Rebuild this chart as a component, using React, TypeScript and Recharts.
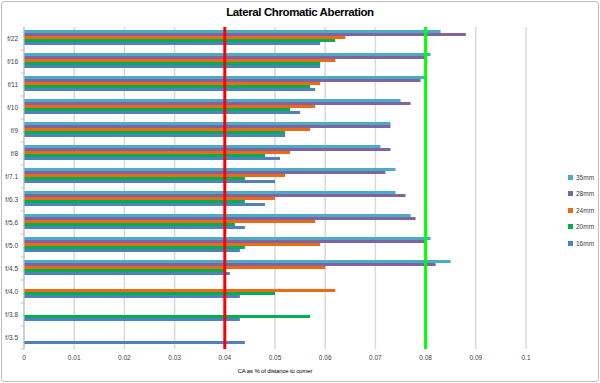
import React from 'react';
import {
  BarChart,
  Bar,
  XAxis,
  YAxis,
  CartesianGrid,
  Legend,
  ReferenceLine,
} from 'recharts';

const apertures = ['f/22', 'f/16', 'f/11', 'f/10', 'f/9', 'f/8', 'f/7.1', 'f/6.3', 'f/5.6', 'f/5.0', 'f/4.5', 'f/4.0', 'f/3.8', 'f/3.5'];

const ca35 = [0.083, 0.081, 0.08, 0.075, 0.073, 0.071, 0.074, 0.074, 0.077, 0.081, 0.085, null, null, null];
const ca28 = [0.088, 0.08, 0.079, 0.077, 0.073, 0.073, 0.072, 0.076, 0.078, 0.08, 0.082, null, null, null];
const ca24 = [0.064, 0.062, 0.059, 0.058, 0.057, 0.053, 0.052, 0.05, 0.058, 0.059, 0.06, 0.062, null, null];
const ca20 = [0.062, 0.059, 0.057, 0.053, 0.052, 0.048, 0.044, 0.044, 0.042, 0.044, 0.04, 0.05, 0.057, null];
const ca16 = [0.059, 0.059, 0.058, 0.055, 0.052, 0.051, 0.05, 0.048, 0.044, 0.043, 0.041, 0.043, 0.043, 0.044];

const xTicks = [0, 0.01, 0.02, 0.03, 0.04, 0.05, 0.06, 0.07, 0.08, 0.09, 0.1];

const series = [
  { key: 'mm35', name: '35mm', color: '#4BACC6', values: ca35 },
  { key: 'mm28', name: '28mm', color: '#8064A2', values: ca28 },
  { key: 'mm24', name: '24mm', color: '#EE6A12', values: ca24 },
  { key: 'mm20', name: '20mm', color: '#00B050', values: ca20 },
  { key: 'mm16', name: '16mm', color: '#4F81BD', values: ca16 },
];

const data = apertures.map((f, i) => {
  const row: Record<string, any> = { name: f };
  series.forEach((s) => {
    row[s.key] = s.values[i];
  });
  return row;
});

const FONT = '"Liberation Sans", Arial, sans-serif';

// y tick: label plus a small outward tick at the band edge, like Excel
const YTick = (props: any) => {
  const { x, y, payload } = props;
  return (
    <g>
      <text x={x + 2} y={y} dy={2.5} textAnchor="end" fontSize={6.5} fill="#404040" fontFamily={FONT}>
        {payload.value}
      </text>
      <line x1={x + 5} x2={x + 8} y1={y + 11.5} y2={y + 11.5} stroke="#BFBFBF" />
    </g>
  );
};

// legend in the same top-to-bottom order as the bars
const LegendBox = () => (
  <div style={{ fontFamily: FONT, fontSize: 6.5, color: '#404040' }}>
    {series.map((s) => (
      <div key={s.key} style={{ display: 'flex', alignItems: 'center', height: 16.5 }}>
        <span style={{ width: 5, height: 5, background: s.color, marginRight: 3, display: 'inline-block' }} />
        {s.name}
      </div>
    ))}
  </div>
);

export default function App() {
  return (
    <div style={{ position: 'absolute', left: 0, top: 0, width: 600, height: 383, background: '#fff' }}>
      <div
        style={{
          position: 'absolute',
          left: 1,
          top: 1,
          width: 596,
          height: 379,
          border: '1px solid #BFBFBF',
          borderRadius: 3,
        }}
      />
      <div
        style={{
          position: 'absolute',
          left: 0,
          top: 6,
          width: 600,
          textAlign: 'center',
          fontFamily: FONT,
          fontWeight: 700,
          fontSize: 11.5,
          letterSpacing: -0.4,
          color: '#000',
        }}
      >
        Lateral Chromatic Aberration
      </div>
      <BarChart
        width={600}
        height={383}
        data={data}
        layout="vertical"
        margin={{ top: 27, right: 44, left: 0, bottom: 0 }}
        barCategoryGap={3}
        barGap={0}
        style={{ position: 'absolute', left: 0, top: 0 }}
      >
        <CartesianGrid horizontal={false} stroke="#D9D9D9" strokeWidth={1.5} />
        <XAxis
          type="number"
          domain={[0, 0.1]}
          ticks={xTicks}
          tickFormatter={(v: number) => String(v)}
          axisLine={false}
          tickLine={false}
          tickSize={4}
          height={34}
          tick={{ fontSize: 6.5, fill: '#404040', fontFamily: FONT }}
          label={{
            value: 'CA as % of distance  to corner',
            position: 'insideBottom',
            offset: 10,
            style: { fontSize: 6, fill: '#000', fontFamily: FONT, letterSpacing: -0.15 },
          }}
        />
        <YAxis
          type="category"
          dataKey="name"
          width={24}
          axisLine={{ stroke: '#BFBFBF' }}
          tickLine={false}
          tick={<YTick />}
          interval={0}
        />
        {series.map((s) => (
          <Bar key={s.key} dataKey={s.key} name={s.name} fill={s.color} isAnimationActive={false} />
        ))}
        <ReferenceLine x={0.04} stroke="#FF0000" strokeWidth={3} />
        <ReferenceLine x={0.08} stroke="#00FF00" strokeWidth={3} />
        <Legend
          layout="horizontal"
          verticalAlign="middle"
          align="right"
          content={<LegendBox />}
          wrapperStyle={{ left: 568, top: 169, width: 30 }}
        />
      </BarChart>
    </div>
  );
}
